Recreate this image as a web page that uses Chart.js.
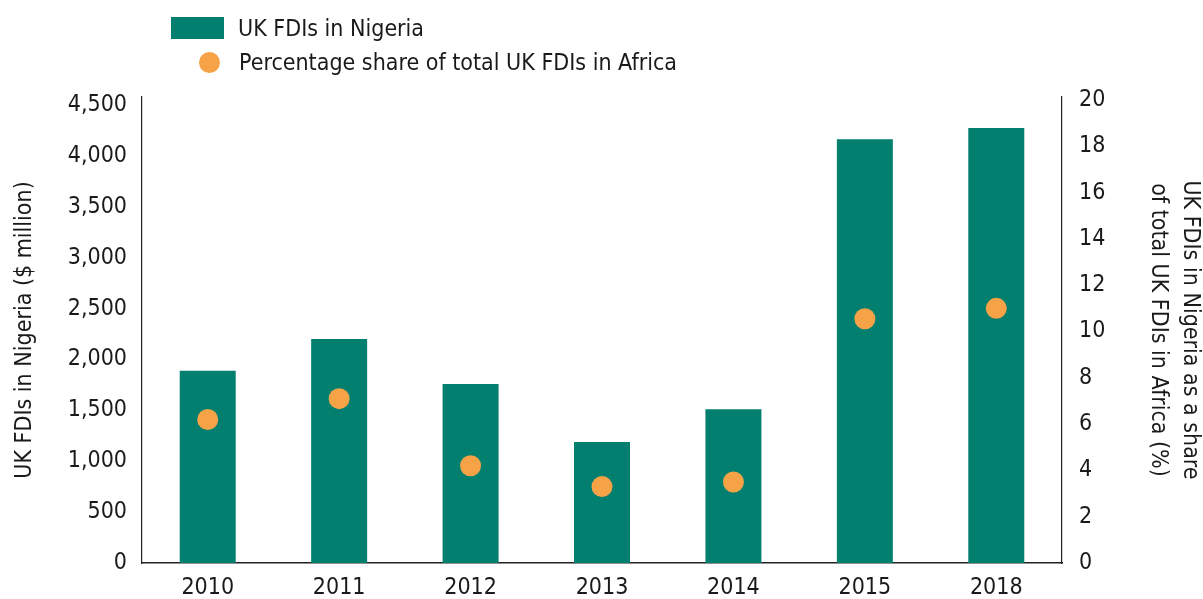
<!DOCTYPE html>
<html>
<head>
<meta charset="utf-8">
<title>UK FDIs in Nigeria</title>
<script src="https://cdn.jsdelivr.net/npm/chart.js@4/dist/chart.umd.min.js"></script>
<style>
  html, body { margin: 0; padding: 0; background: #fff; }
  .wrap { position: relative; width: 1203px; height: 599px; }
  .legend { position: absolute; left: 0; top: 0; font-family: 'Liberation Sans Narrow', 'DejaVu Sans Condensed', 'Roboto Condensed', Roboto, sans-serif; font-size: 23px; color: #1a1a1a; }
  .legend span { position: absolute; white-space: nowrap; line-height: 1; }
  .legend i { position: absolute; display: block; }
</style>
</head>
<body>
<div class="wrap">
  <canvas id="Chart" width="1203" height="599"></canvas>
  <div class="legend" id="legend"></div>
</div>
<script>
"use strict";

// data
var years = ['2010', '2011', '2012', '2013', '2014', '2015', '2018'];
var fdiValues = [1890, 2200, 1760, 1190, 1510, 4165, 4275];
var shareValues = [6.2, 7.1, 4.2, 3.3, 3.5, 10.55, 11.0];
var leftTicks = [0, 500, 1000, 1500, 2000, 2500, 3000, 3500, 4000, 4500];
var rightTicks = [0, 2, 4, 6, 8, 10, 12, 14, 16, 18, 20];

var fontFamily = "'Liberation Sans Narrow', 'DejaVu Sans Condensed', 'Roboto Condensed', Roboto, sans-serif";
var textColor = '#1a1a1a';
var teal = '#037f6f';
var orange = '#f5a346';

var ctx = document.getElementById('Chart').getContext('2d');
var chart = new Chart(ctx, {
  type: 'bar',
  data: {
    labels: years,
    datasets: [{
      type: 'line',
      label: 'Percentage share of total UK FDIs in Africa',
      data: shareValues,
      yAxisID: 'y1',
      showLine: false,
      pointRadius: 10.5,
      pointBackgroundColor: orange,
      pointBorderWidth: 0,
      order: 0
    }, {
      label: 'UK FDIs in Nigeria',
      data: fdiValues,
      yAxisID: 'y',
      backgroundColor: teal,
      categoryPercentage: 1,
      barPercentage: 0.426,
      order: 1
    }]
  },
  options: {
    responsive: false,
    animation: false,
    layout: { padding: { top: 97, left: 0, right: 0, bottom: 0 } },
    plugins: {
      legend: { display: false },
      tooltip: { enabled: false }
    },
    scales: {
      x: {
        grid: { display: false, drawTicks: false },
        border: { display: true, color: '#222', width: 1.5 },
        ticks: { color: textColor, font: { family: fontFamily, size: 23 }, padding: 11, maxRotation: 0 },
        afterFit: function (scale) { scale.height = 36; }
      },
      y: {
        position: 'left',
        min: 0,
        max: 4579,
        grid: { display: false, drawTicks: false },
        border: { display: true, color: '#222', width: 1.2 },
        afterBuildTicks: function (scale) {
          scale.ticks = leftTicks.map(function (v) { return { value: v }; });
        },
        ticks: {
          color: textColor,
          font: { family: fontFamily, size: 23 },
          padding: 15,
          callback: function (v) { return v.toLocaleString('en-US'); }
        },
        title: {
          display: true,
          text: 'UK FDIs in Nigeria ($ million)',
          color: textColor,
          font: { family: fontFamily, size: 23, lineHeight: 1.39 },
          padding: { top: 9, bottom: 0 }
        },
        afterFit: function (scale) { scale.width = 142; }
      },
      y1: {
        position: 'right',
        min: 0,
        max: 20.13,
        grid: { display: false, drawTicks: false },
        border: { display: true, color: '#222', width: 1.2 },
        afterBuildTicks: function (scale) {
          scale.ticks = rightTicks.map(function (v) { return { value: v }; });
        },
        ticks: {
          color: textColor,
          font: { family: fontFamily, size: 23 },
          padding: 17
        },
        title: {
          display: true,
          text: ['UK FDIs in Nigeria as a share', 'of total UK FDIs in Africa (%)'],
          color: textColor,
          font: { family: fontFamily, size: 23, lineHeight: 1.39 },
          padding: { top: -3, bottom: 0 }
        },
        afterFit: function (scale) { scale.width = 141; }
      }
    }
  }
});

// legend
(function () {
  var legend = document.getElementById('legend');
  var bars = chart.data.datasets[1];
  var dots = chart.data.datasets[0];
  legend.innerHTML =
    '<i style="left:171px;top:17px;width:53px;height:22px;background:' + teal + '"></i>' +
    '<span style="left:238px;top:17px">' + bars.label + '</span>' +
    '<i style="left:198.5px;top:51.5px;width:21px;height:21px;border-radius:50%;background:' + orange + '"></i>' +
    '<span style="left:239px;top:51px">' + dots.label + '</span>';
})();
</script>
</body>
</html>
